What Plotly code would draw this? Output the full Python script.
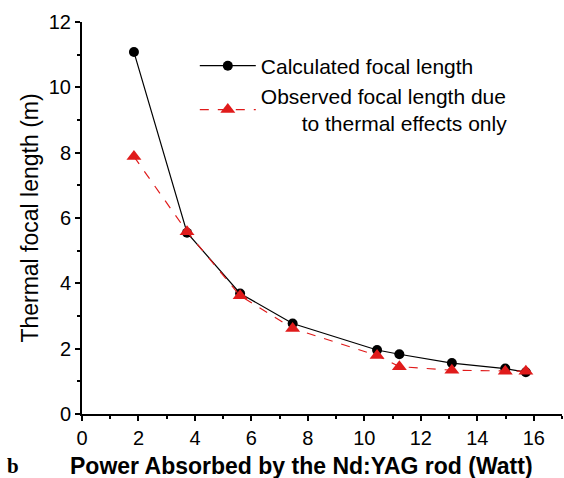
import plotly.graph_objects as go

power_calc = [1.84, 3.72, 5.6, 7.46, 10.45, 11.24, 13.1, 14.99, 15.72]
focal_calc = [11.08, 5.55, 3.69, 2.77, 1.96, 1.83, 1.56, 1.39, 1.28]
power_obs = [1.84, 3.72, 5.6, 7.46, 10.45, 11.24, 13.1, 14.99, 15.72]
focal_obs = [7.88, 5.58, 3.62, 2.62, 1.79, 1.45, 1.34, 1.31, 1.31]

name_calc = "Calculated focal length"
name_obs = "Observed focal length due<br>" + "\u00a0" * 7 + "to thermal effects only"

font = "Liberation Sans, Arial, sans-serif"

fig = go.Figure()
fig.add_trace(go.Scatter(
    x=power_calc, y=focal_calc, mode="lines+markers", name=name_calc,
    line=dict(color="black", width=1.2),
    marker=dict(symbol="circle", size=10, color="black"),
))
fig.add_trace(go.Scatter(
    x=power_obs, y=focal_obs, mode="lines+markers", name=name_obs,
    line=dict(color="#e01b1b", width=1.2, dash="dash"),
    marker=dict(symbol="triangle-up", size=13, color="#e01b1b"),
))

axis_common = dict(
    showline=True, linecolor="black", linewidth=2,
    ticks="outside", ticklen=5, tickwidth=2, tickcolor="black",
    showgrid=False, zeroline=False,
    tickfont=dict(family=font, size=20, color="black"),
    minor=dict(ticks="outside", ticklen=3, tickwidth=2, tickcolor="black", dtick=1),
)

fig.update_xaxes(range=[0, 17], tick0=0, dtick=2, ticklabelstandoff=0, **axis_common)
fig.update_yaxes(range=[0, 12], tick0=0, dtick=2, **axis_common,
                 title=dict(text="Thermal focal length (m)",
                            font=dict(family=font, size=23, color="black"), standoff=4))

fig.add_annotation(text="<b>Power Absorbed by the Nd:YAG rod (Watt)</b>",
                   xref="paper", yref="paper", x=0.458, y=-0.133,
                   xanchor="center", yanchor="middle", showarrow=False,
                   font=dict(family=font, size=23, color="black"))
fig.add_annotation(text="<b>b</b>", xref="paper", yref="paper", x=-0.16, y=-0.133,
                   xanchor="left", yanchor="middle", showarrow=False,
                   font=dict(family="Liberation Serif, serif", size=21, color="black"))

fig.update_layout(
    width=564, height=478,
    margin=dict(l=82, r=2, t=22, b=64),
    plot_bgcolor="white", paper_bgcolor="white",
    showlegend=True,
    legend=dict(x=0.235, y=0.94, xanchor="left", yanchor="top",
                font=dict(family=font, size=21, color="black"),
                bgcolor="rgba(0,0,0,0)", itemwidth=56),
)

fig.write_html("out.html")
